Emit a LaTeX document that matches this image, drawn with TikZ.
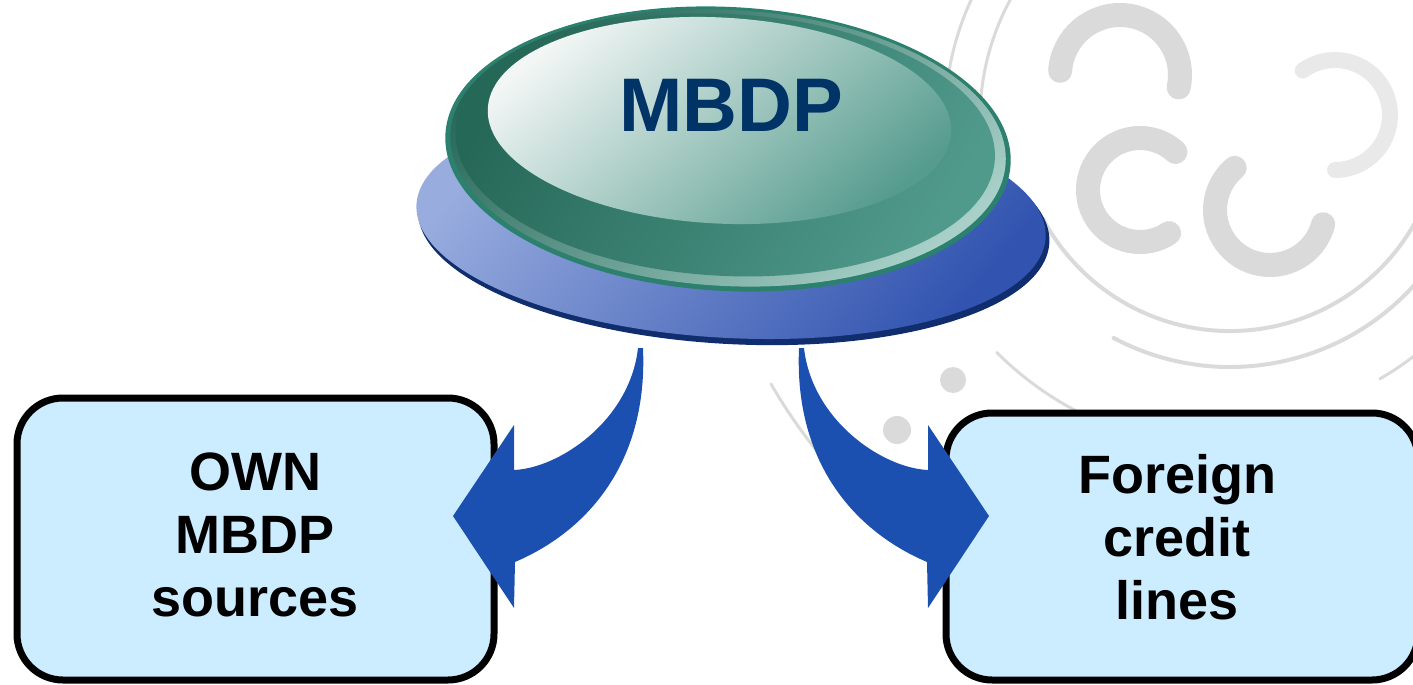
\documentclass[tikz,border=0pt]{standalone}
\usepackage{fontspec}
\setmainfont{Liberation Sans}
\definecolor{navy}{RGB}{0,51,102}
\definecolor{arrowblue}{RGB}{28,80,176}
\definecolor{boxfill}{RGB}{204,236,255}
\definecolor{wm}{RGB}{218,218,218}
\definecolor{baselight}{RGB}{152,172,222}
\definecolor{basedark}{RGB}{50,84,176}
\definecolor{baserim}{RGB}{16,46,110}
\definecolor{gdark}{RGB}{38,104,88}
\definecolor{gline}{RGB}{44,128,110}
\definecolor{gmid}{RGB}{80,154,140}
\definecolor{glight}{RGB}{168,208,200}
\definecolor{facelight}{RGB}{242,246,245}
\definecolor{facedark}{RGB}{86,156,142}
\begin{document}
\begin{tikzpicture}[x=1pt,y=-1pt,
  box/.style={draw=black,line width=7pt,fill=boxfill,rounded corners=46pt,inner sep=0pt},
  boxtext/.style={font=\fontsize{54}{63}\selectfont\bfseries,align=center,text=black,inner sep=0pt},
  bigarrow/.style={fill=arrowblue,draw=none},
  wmline/.style={draw=wm,line width=4pt,line cap=round},
  wmblob/.style={draw=wm,line width=24pt,line cap=round},
]
\useasboundingbox (0,0) rectangle (1413,685);
\clip (0,0) rectangle (1413,685);
% ---- faint background emblem ----
\draw[wmline] ([shift={(22:212)}]1230,119) arc[start angle=22,end angle=152,radius=212];
\draw[wmline] ([shift={(42:248)}]1230,119) arc[start angle=42,end angle=118,radius=248];
\draw[wmline,line width=3pt] ([shift={(150:250)}]1230,119) arc[start angle=150,end angle=245,radius=250];
\draw[wmline,line width=3pt] ([shift={(170:285)}]1230,119) arc[start angle=170,end angle=245,radius=285];
\draw[wmline,line width=3pt] ([shift={(100:330)}]1230,119) arc[start angle=100,end angle=135,radius=330];
\draw[wmline,line width=3pt] ([shift={(15:300)}]1230,119) arc[start angle=15,end angle=60,radius=300];
\draw[wmline,line width=3pt] ([shift={(128:530)}]1230,119) arc[start angle=128,end angle=150,radius=530];
\draw[wmline,line width=3pt] ([shift={(100:410)}]1230,119) arc[start angle=100,end angle=125,radius=410];
\draw[wmblob] ([shift={(56:52)}]1140,190) arc[start angle=56,end angle=313,radius=52];
\draw[wmblob] ([shift={(15:55)}]1270,210) arc[start angle=15,end angle=230,radius=55];
\draw[wmblob] ([shift={(184:60)}]1120,75) arc[start angle=184,end angle=372,radius=60];
\draw[wmblob,line width=16pt,draw=wm!60] ([shift={(-126:55)}]1335,115) arc[start angle=-126,end angle=90,radius=55];
\fill[wm] (953,380) circle[radius=13];
\fill[wm] (897,430) circle[radius=14];
% ---- MBDP button ----
\begin{scope}[rotate around={-3:(731,222)}]
  \fill[baserim] (734,226) ellipse[x radius=316,y radius=118];
  \shade[top color=baselight,bottom color=basedark,shading angle=50] (731,221) ellipse[x radius=315,y radius=117];
\end{scope}
\begin{scope}[rotate around={-3:(728,149)}]
  \fill[gline] (728,149) ellipse[x radius=283,y radius=142];
  \shade[top color=gdark,bottom color=glight,shading angle=40] (728,148) ellipse[x radius=278,y radius=138];
  \shade[top color=gdark,bottom color=gmid,shading angle=60] (725,145) ellipse[x radius=270,y radius=131];
  \shade[top color=facelight,bottom color=facedark,shading angle=40] (718,121) ellipse[x radius=232,y radius=103];
\end{scope}
\node[font=\fontsize{76}{76}\selectfont\bfseries,text=navy,inner sep=0pt] (mbdp) at (731,105.5) {MBDP};
% ---- boxes ----
\node[box,minimum width=477pt,minimum height=282pt] (own) at (255.5,539) {};
\node[boxtext] (owntext) at (255,535) {OWN\\MBDP\\sources};
\node[box,minimum width=472pt,minimum height=267pt] (foreign) at (1182,546.5) {};
\node[boxtext] (foreigntext) at (1177,537) {Foreign\\credit\\lines};
% ---- curved arrows ----
\fill[bigarrow] (643,348) .. controls (648,460) and (590,530) .. (515,562)
  -- (514,608) -- (453,516) -- (514,425) -- (514,470)
  .. controls (560,468) and (630,420) .. (638,348) -- cycle;
\fill[bigarrow] (799,348) .. controls (794,460) and (852,530) .. (927,562)
  -- (928,608) -- (989,516) -- (928,425) -- (928,470)
  .. controls (882,468) and (812,420) .. (804,348) -- cycle;
\end{tikzpicture}
\end{document}
